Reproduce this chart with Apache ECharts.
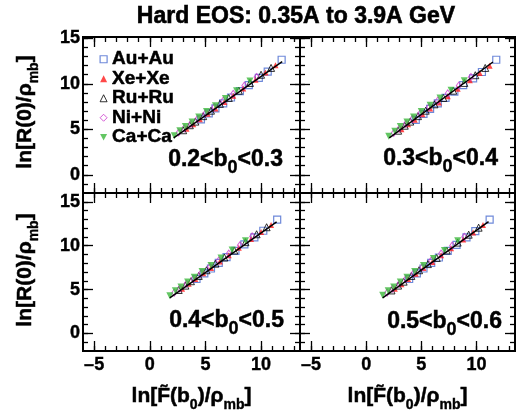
<!DOCTYPE html>
<html><head><meta charset="utf-8">
<script src="https://cdn.jsdelivr.net/npm/echarts@6/dist/echarts.min.js"></script>
<style>html,body{margin:0;padding:0;background:#fff}#c{width:518px;height:418px}</style>
</head><body><div id="c"></div>
<script>
// ---------------- data ----------------
const systems = ['Au+Au', 'Xe+Xe', 'Ru+Ru', 'Ni+Ni', 'Ca+Ca'];
const panelRanges = [['0.2', '0.3'], ['0.3', '0.4'], ['0.4', '0.5'], ['0.5', '0.6']];
const xMajorTicks = [-5, 0, 5, 10];
const xMinorTicks = [-5, -4, -3, -2, -1, 0, 1, 2, 3, 4, 5, 6, 7, 8, 9, 10, 11, 12, 13];
const yMajorTicks = [0, 5, 10, 15];
const yMinorTicks = [-1, 0, 1, 2, 3, 4, 5, 6, 7, 8, 9, 10, 11, 12, 13, 14, 15];

// one inner array per panel (0.2-0.3, 0.3-0.4, 0.4-0.5, 0.5-0.6)
const auAuX = [
  [4.6, 5.3, 5.9, 6.6, 7.3, 8.1, 8.9, 9.8, 10.6, 11.85],
  [4.5, 5.2, 5.8, 6.5, 7.2, 8.0, 8.8, 9.7, 10.5, 11.8],
  [4.2, 4.9, 5.5, 6.2, 6.9, 7.7, 8.5, 9.4, 10.2, 11.45],
  [3.9, 4.6, 5.2, 5.9, 6.6, 7.4, 8.2, 9.1, 9.9, 11.2]];
const auAuY = [
  [6.1, 6.75, 7.3, 7.85, 8.5, 9.2, 9.85, 10.65, 11.35, 12.65],
  [6.05, 6.7, 7.25, 7.85, 8.45, 9.15, 9.85, 10.6, 11.3, 12.65],
  [6.2, 6.85, 7.4, 8.05, 8.7, 9.4, 10.15, 10.95, 11.7, 12.97],
  [6.2, 6.85, 7.4, 8.05, 8.65, 9.4, 10.1, 10.95, 11.65, 12.97]];
const xeXeX = [
  [3.3, 3.9, 4.5, 5.2, 5.9, 6.7, 7.5, 8.4, 9.5, 10.4, 11.3],
  [3.2, 3.8, 4.4, 5.1, 5.8, 6.6, 7.4, 8.3, 9.4, 10.3, 11.2],
  [2.9, 3.5, 4.1, 4.8, 5.5, 6.3, 7.1, 8.0, 9.1, 10.0, 10.9],
  [2.6, 3.2, 3.8, 4.5, 5.2, 6.0, 6.8, 7.7, 8.8, 9.7, 10.6]];
const xeXeY = [
  [5.05, 5.55, 6.1, 6.7, 7.3, 8.0, 8.7, 9.5, 10.45, 11.25, 12.05],
  [5.0, 5.55, 6.05, 6.65, 7.3, 7.95, 8.65, 9.45, 10.4, 11.2, 12.0],
  [5.1, 5.65, 6.2, 6.85, 7.45, 8.2, 8.9, 9.75, 10.75, 11.55, 12.35],
  [5.1, 5.6, 6.2, 6.8, 7.45, 8.15, 8.9, 9.7, 10.7, 11.5, 12.35]];
const ruRuX = [
  [3.0, 3.6, 4.1, 4.8, 5.5, 6.3, 7.1, 8.0, 9.0, 10.0, 10.9],
  [2.9, 3.5, 4.0, 4.7, 5.4, 6.2, 7.0, 7.9, 8.9, 9.9, 10.8],
  [2.6, 3.2, 3.7, 4.4, 5.1, 5.9, 6.7, 7.6, 8.6, 9.6, 10.5],
  [2.3, 2.9, 3.4, 4.1, 4.8, 5.6, 6.4, 7.3, 8.3, 9.3, 10.2]];
const ruRuY = [
  [4.9, 5.45, 5.85, 6.45, 7.05, 7.8, 8.45, 9.25, 10.1, 11.0, 11.75],
  [4.85, 5.4, 5.85, 6.45, 7.05, 7.75, 8.45, 9.25, 10.1, 10.95, 11.75],
  [4.95, 5.45, 5.95, 6.55, 7.2, 7.95, 8.65, 9.45, 10.4, 11.3, 12.1],
  [4.9, 5.45, 5.9, 6.55, 7.2, 7.9, 8.6, 9.45, 10.35, 11.25, 12.05]];
const niNiX = [
  [2.6, 3.1, 3.7, 4.3, 5.0, 5.8, 6.6, 7.5, 8.5, 9.6],
  [2.5, 3.0, 3.6, 4.2, 4.9, 5.7, 6.5, 7.4, 8.4, 9.5],
  [2.2, 2.7, 3.3, 3.9, 4.6, 5.4, 6.2, 7.1, 8.1, 9.2],
  [1.9, 2.4, 3.0, 3.6, 4.3, 5.1, 5.9, 6.8, 7.8, 8.9]];
const niNiY = [
  [4.65, 5.1, 5.6, 6.15, 6.75, 7.45, 8.15, 8.9, 9.8, 10.75],
  [4.6, 5.05, 5.6, 6.15, 6.75, 7.45, 8.15, 8.95, 9.8, 10.75],
  [4.65, 5.1, 5.65, 6.2, 6.85, 7.6, 8.3, 9.1, 10.05, 11.05],
  [4.65, 5.1, 5.65, 6.2, 6.85, 7.55, 8.3, 9.1, 10.0, 11.0]];
const caCaX = [
  [2.2, 2.7, 3.2, 3.8, 4.4, 5.1, 5.9, 6.8, 7.8, 9.0],
  [2.05, 2.6, 3.1, 3.7, 4.3, 5.0, 5.8, 6.7, 7.7, 8.9],
  [1.8, 2.3, 2.8, 3.4, 4.0, 4.7, 5.5, 6.4, 7.4, 8.6],
  [1.5, 2.0, 2.5, 3.1, 3.7, 4.4, 5.2, 6.1, 7.1, 8.3]];
const caCaY = [
  [4.3, 4.85, 5.3, 5.8, 6.35, 6.95, 7.6, 8.4, 9.25, 10.3],
  [4.25, 4.8, 5.3, 5.8, 6.35, 6.95, 7.65, 8.45, 9.3, 10.35],
  [4.3, 4.85, 5.3, 5.85, 6.4, 7.05, 7.75, 8.6, 9.5, 10.55],
  [4.35, 4.85, 5.3, 5.85, 6.4, 7.05, 7.75, 8.55, 9.45, 10.55]];
const fitX = [[2.15, 11.9], [2.1, 11.5], [1.8, 11.4], [1.5, 11.1]];
const fitY = [[4.05, 12.45], [4.05, 12.4], [4.05, 12.7], [4.05, 12.75]];

// ---------------- layout / style ----------------
const FONT = '"Liberation Sans", Arial, Helvetica, sans-serif';
const grids = [
  {left: 83, top: 37, width: 217, height: 156},
  {left: 300, top: 37, width: 215, height: 156},
  {left: 83, top: 193, width: 217, height: 158},
  {left: 300, top: 193, width: 215, height: 158}];
const yRanges = [[-2, 15.15], [-2, 15.15], [-2, 16], [-2, 16]];
const INV_TRI = 'path://M0,0 L10,0 L5,9 Z';

const sysX = [auAuX, xeXeX, ruRuX, niNiX, caCaX];
const sysY = [auAuY, xeXeY, ruRuY, niNiY, caCaY];
const sysStyle = [
  {symbol: 'rect', symbolSize: 7, itemStyle: {color: 'transparent', borderColor: '#4a6cd0', borderWidth: 1.2}},
  {symbol: 'triangle', symbolSize: 6, itemStyle: {color: '#ff1a1a'}},
  {symbol: 'triangle', symbolSize: 7, itemStyle: {color: 'transparent', borderColor: '#000', borderWidth: 1}},
  {symbol: 'diamond', symbolSize: [5, 7], itemStyle: {color: 'transparent', borderColor: '#cc33cc', borderWidth: 1}},
  {symbol: INV_TRI, symbolSize: 7, itemStyle: {color: '#3cb83c'}}];

const fmt = v => v < 0 ? '\u2013' + Math.abs(v) : String(v);
const tickLine = {color: '#000', width: 1.3};
const labelStyle = {color: '#000', fontFamily: FONT, fontWeight: 'bold', fontSize: 18, textBorderColor: '#000', textBorderWidth: 0.4};
const xAxes = [], yAxes = [], series = [];
grids.forEach((g, gi) => {
  const bottomRow = gi >= 2, leftCol = gi % 2 === 0;
  [['bottom', xMajorTicks, 10, bottomRow], ['bottom', xMinorTicks, 5, false],
   ['top', xMajorTicks, 10, false], ['top', xMinorTicks, 5, false]].forEach(([pos, vals, len, lab]) => {
    xAxes.push({type: 'value', gridIndex: gi, position: pos, min: -6, max: 13.5,
      axisLine: {show: false, onZero: false}, splitLine: {show: false},
      axisTick: {show: true, inside: true, length: len, customValues: vals, lineStyle: tickLine},
      axisLabel: Object.assign({show: lab, customValues: vals, formatter: fmt, margin: 5}, labelStyle)});
  });
  [['left', yMajorTicks, 10, leftCol], ['left', yMinorTicks, 5, false],
   ['right', yMajorTicks, 10, false], ['right', yMinorTicks, 5, false]].forEach(([pos, vals, len, lab]) => {
    yAxes.push({type: 'value', gridIndex: gi, position: pos, min: yRanges[gi][0], max: yRanges[gi][1],
      axisLine: {show: false, onZero: false}, splitLine: {show: false},
      axisTick: {show: true, inside: true, length: len, customValues: vals, lineStyle: tickLine},
      axisLabel: Object.assign({show: lab, customValues: vals, formatter: fmt, margin: 3}, labelStyle)});
  });
  systems.forEach((name, si) => {
    series.push(Object.assign({type: 'scatter', name: name, xAxisIndex: gi * 4, yAxisIndex: gi * 4,
      z: 2 + si, data: sysX[si][gi].map((x, k) => [x, sysY[si][gi][k]])}, sysStyle[si]));
  });
  series.push({type: 'line', xAxisIndex: gi * 4, yAxisIndex: gi * 4, z: 10, symbol: 'none',
    lineStyle: {color: '#000', width: 1.5}, silent: true,
    data: fitX[gi].map((x, k) => [x, fitY[gi][k]])});
});

// texts
const STROKE = {textStroke: '#000', stroke: '#000', lineWidth: 0.5};
const mainRich = (fs, lh) => ({fontSize: fs, fontWeight: 'bold', fontFamily: FONT, fill: '#000', stroke: '#000', lineWidth: 0.5, lineHeight: lh, verticalAlign: 'top'});
const subRich = (fs, pad) => ({fontSize: fs, fontWeight: 'bold', fontFamily: FONT, fill: '#000', stroke: '#000', lineWidth: 0.4, lineHeight: fs, verticalAlign: 'top', padding: [pad, 0, 0, 0]});
const graphics = [];
graphics.push({type: 'text', x: 296, y: 17, style: {text: 'Hard EOS: 0.35A to 3.9A GeV',
  font: 'bold 23px ' + FONT, fill: '#000', stroke: '#000', lineWidth: 0.6, textAlign: 'center', textVerticalAlign: 'middle'}});
const labelPos = [[283, 148], [498, 147], [284, 309], [502, 310]];
panelRanges.forEach((r, i) => {
  graphics.push({type: 'text', x: labelPos[i][0], y: labelPos[i][1], z: 20, style: {
    text: '{n|' + r[0] + '<b}{s|0}{n|<' + r[1] + '}',
    rich: {n: mainRich(23, 24), s: subRich(18, 11)}, textAlign: 'right', textVerticalAlign: 'top'}});
});
const xTitle = '{n|ln[F\u0303(b}{s|0}{n|)/\u03c1}{s|mb}{n|]}';
[191.5, 407.5].forEach(cx => {
  graphics.push({type: 'text', x: cx, y: 386, style: {text: xTitle,
    rich: {n: mainRich(21, 24), s: subRich(14, 12)}, textAlign: 'center', textVerticalAlign: 'top'}});
});
const yTitle = '{n|ln[R(0)/\u03c1}{s|mb}{n|]}';
[112, 270].forEach(cy => {
  graphics.push({type: 'text', x: 15, y: cy, rotation: Math.PI / 2, style: {text: yTitle,
    rich: {n: mainRich(21, 24), s: subRich(14, 12)}, textAlign: 'center', textVerticalAlign: 'top'}});
});

const chart = echarts.init(document.getElementById('c'), null, {renderer: 'canvas'});
chart.setOption({
  animation: false,
  backgroundColor: '#fff',
  grid: grids.map(g => Object.assign({show: true, borderColor: '#000', borderWidth: 2, backgroundColor: 'transparent', containLabel: false}, g)),
  xAxis: xAxes,
  yAxis: yAxes,
  legend: {orient: 'vertical', left: 94.5, top: 44.5, itemWidth: 7, itemHeight: 7, itemGap: 0,
    selectedMode: false,
    textStyle: {fontFamily: FONT, fontWeight: 'bold', fontSize: 19, color: '#000', lineHeight: 17.75,
      textBorderColor: '#000', textBorderWidth: 0.5},
    data: systems.map((n, i) => ({name: n,
      itemStyle: {borderWidth: sysStyle[i].itemStyle.borderWidth || 0}}))},
  series: series,
  graphic: graphics
});
</script></body></html>
